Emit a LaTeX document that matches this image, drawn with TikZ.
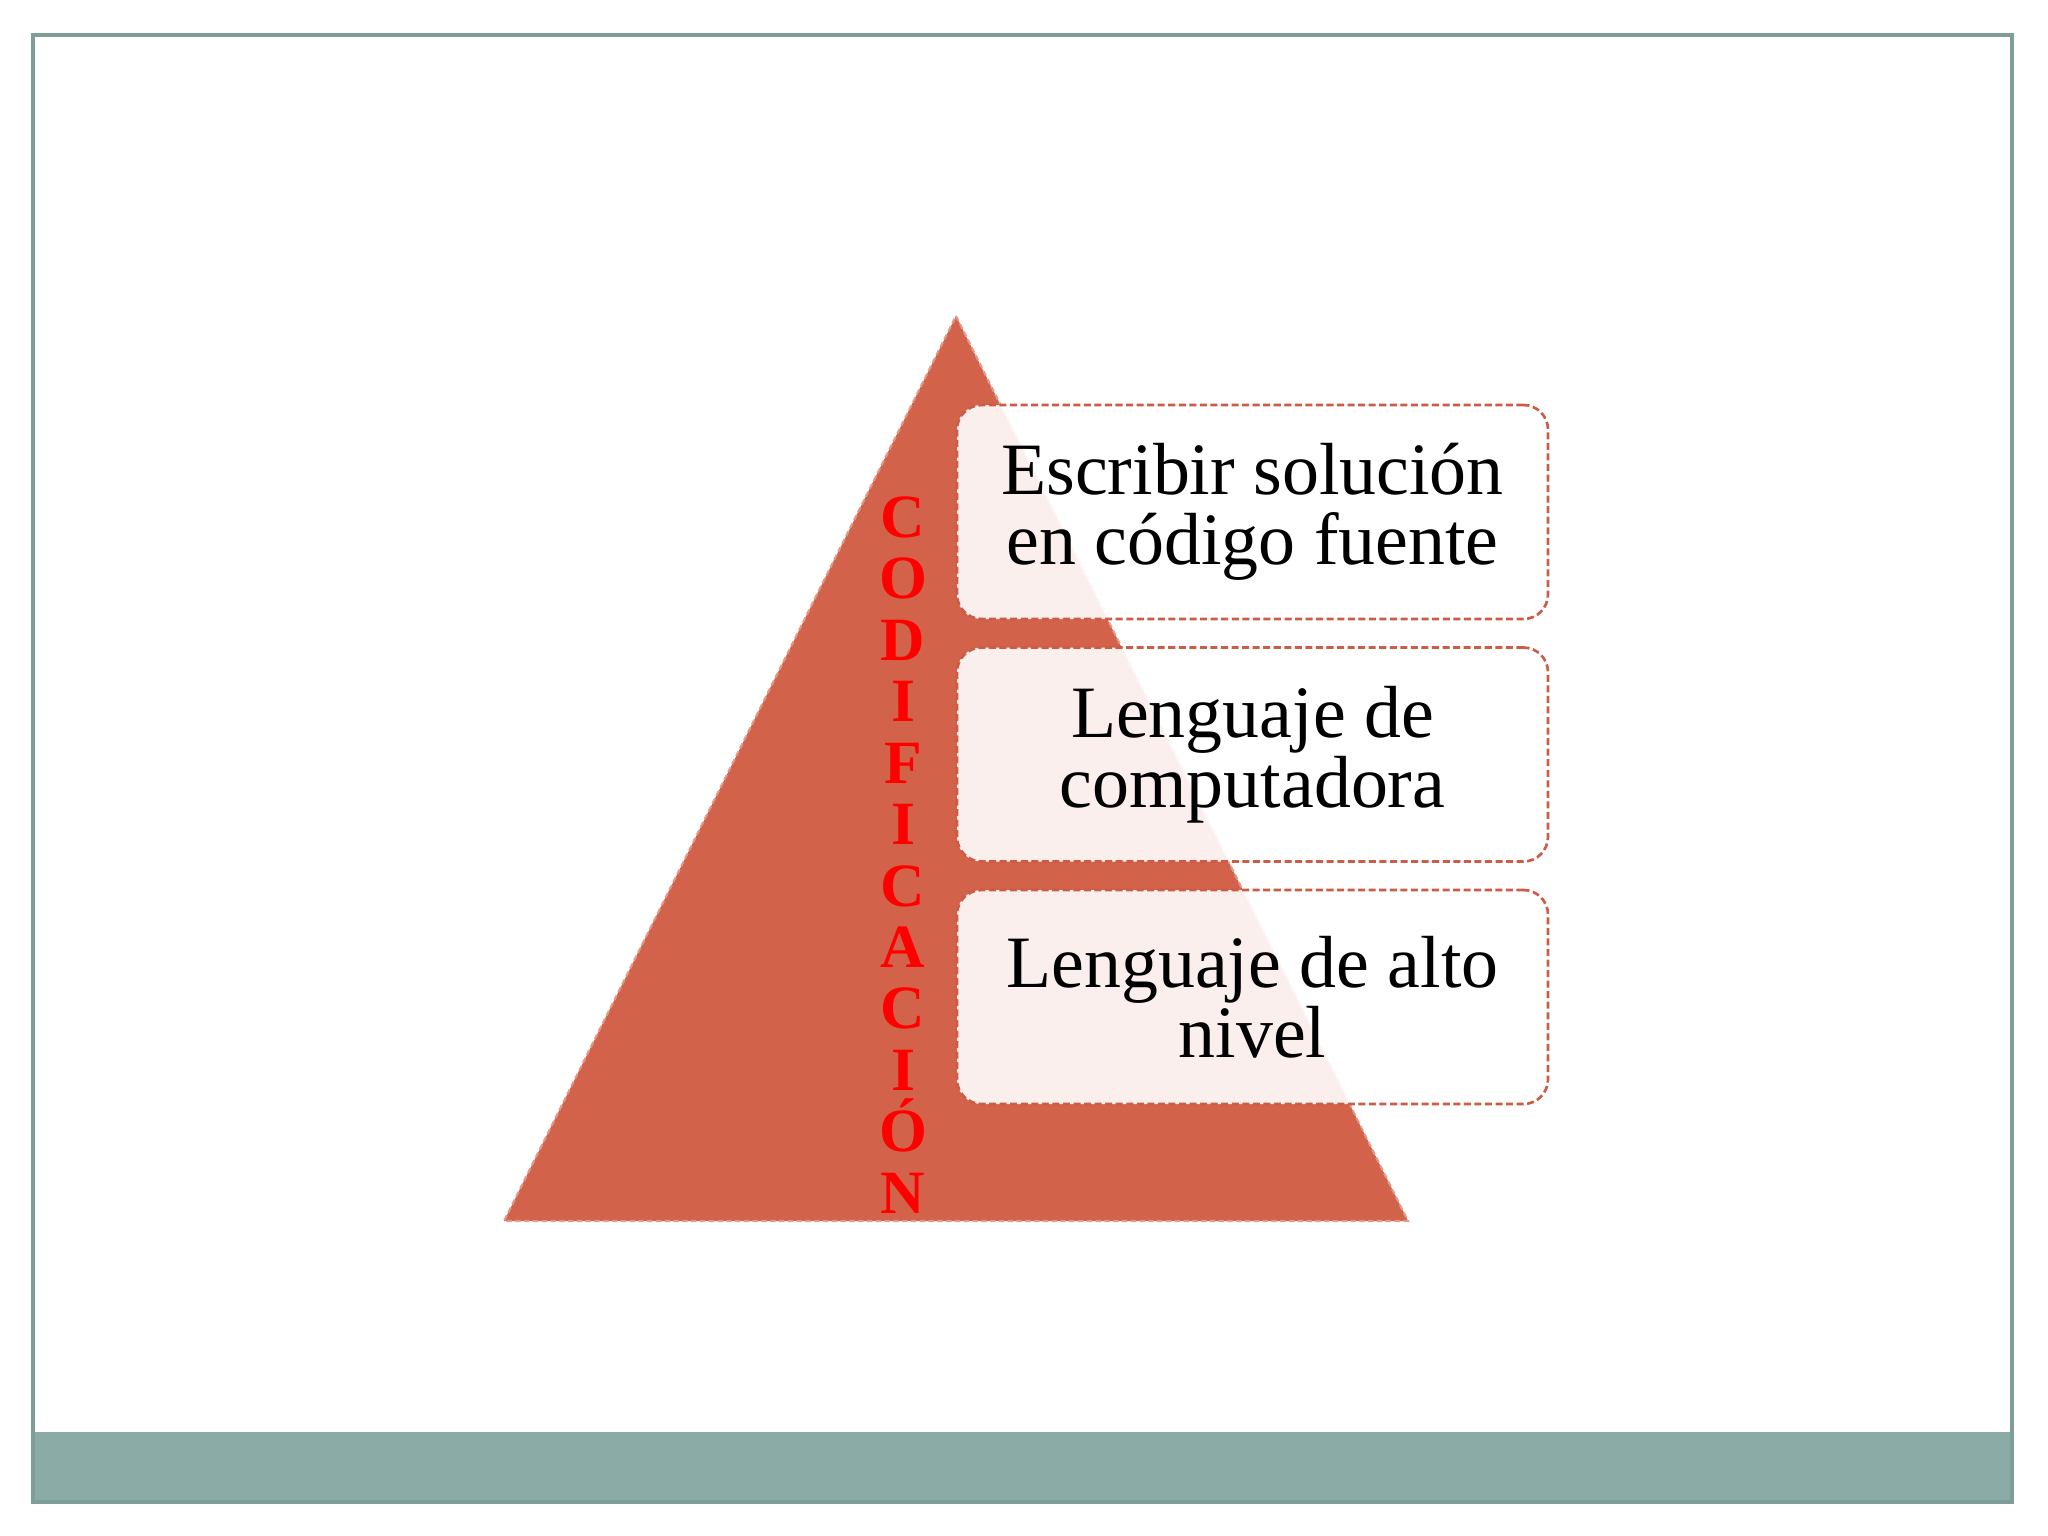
\documentclass[tikz,border=0pt]{standalone}
\usepackage{fontspec}
\setmainfont{Liberation Serif}
\definecolor{frameC}{HTML}{7F9E99}
\definecolor{barC}{HTML}{8BABA7}
\definecolor{triC}{HTML}{D2634A}
\definecolor{triEdge}{HTML}{E29A88}
\definecolor{boxEdge}{HTML}{CC5C45}
\tikzset{
  framebox/.style={draw=frameC, line width=1pt},
  tri/.style={fill=triC, draw=triEdge, line width=0.6pt, dash pattern=on 1.5pt off 1pt},
  stepbox/.style={draw=boxEdge, line width=0.75pt, dash pattern=on 2pt off 1pt,
    fill=white, fill opacity=0.9, text opacity=1, rounded corners=7pt,
    minimum width=591*0.01cm, minimum height=214*0.01cm, inner sep=0pt,
    align=center, font=\fontsize{21}{20}\selectfont},
  vword/.style={text=red, align=center, inner sep=0pt,
    font=\bfseries\fontsize{17.5}{17.47}\selectfont}
}
\begin{document}
\begin{tikzpicture}[x=0.01cm, y=-0.01cm]
\useasboundingbox (0,0) rectangle (2048,1536);
\fill[white] (0,0) rectangle (2048,1536);
% frame and bottom bar
\fill[barC] (33,1432) rectangle (2012,1502);
\draw[framebox] (33,35) rectangle (2012,1502);
% triangle
\coordinate (apex) at (956,316);
\coordinate (bl) at (504,1221);
\coordinate (br) at (1408,1221);
\filldraw[tri] (apex) -- (br) -- (bl) -- cycle;
% vertical word
\node[vword, anchor=north] (cod) at (903,496) {C\\O\\D\\I\\F\\I\\C\\A\\C\\I\\Ó\\N};
% boxes
\node[stepbox] (b1) at (1252.5,512) {Escribir solución\\en código fuente};
\node[stepbox] (b2) at (1252.5,754.5) {Lenguaje de\\computadora};
\node[stepbox] (b3) at (1252.5,997) {Lenguaje de alto\\nivel};
\end{tikzpicture}
\end{document}
